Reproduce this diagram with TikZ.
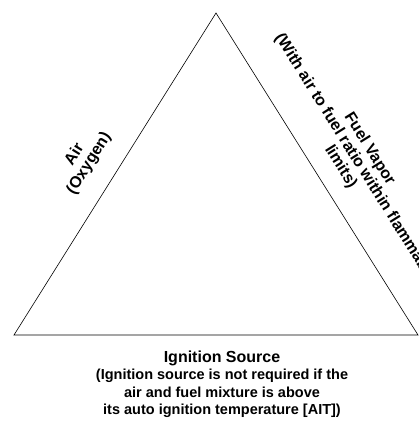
\documentclass[tikz,border=0pt]{standalone}
\usepackage{fontspec}
\setmainfont{Liberation Sans}
\tikzset{
	side label/.style = {align = center, font = \bfseries\fontsize{16}{17}\selectfont, inner sep = 0pt},
	base label/.style = {align = center, font = \bfseries\fontsize{14.5}{17.5}\selectfont, inner sep = 0pt},
}

\begin{document}
\begin{tikzpicture}[x = 1pt, y = -1pt]
		\useasboundingbox (0,0) rectangle (419,421);
		\coordinate (apex) at (216,13);
		\coordinate (left) at (14,335);
		\coordinate (right) at (418,335);
		\draw [line width = 0.6pt] (apex) -- (left) -- (right) -- cycle;
		%
		\node (air)[side label, rotate = 58] at (82,159) {Air\\(Oxygen)};
		\node (fuel)[side label, rotate = -58] at (355,158) {Fuel Vapor\\(With air to fuel ratio within flammable\\limits)};
		%
		\node (ignition)[base label] at (222,384) {{\fontsize{16}{17.5}\selectfont Ignition Source}\\(Ignition source is not required if the\\air and fuel mixture is above\\its auto ignition temperature [AIT])};
	\end{tikzpicture}
\end{document}
